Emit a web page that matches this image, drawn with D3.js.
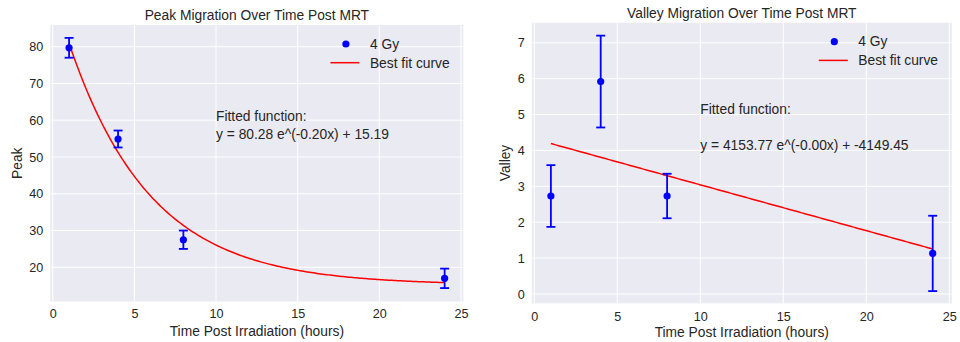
<!DOCTYPE html>
<html>
<head>
<meta charset="utf-8">
<script src="https://cdn.jsdelivr.net/npm/d3@7"></script>
<style>
  html, body { margin: 0; padding: 0; background: #ffffff; }
  svg { display: block; }
  text { font-family: "Liberation Sans", Arial, sans-serif; fill: #262626; }
</style>
</head>
<body>
<svg id="chart" width="960" height="342"></svg>
<script>
// Measurements taken at 1, 4, 8 and 24 hours after irradiation (4 Gy)
const hours = [1, 4, 8, 24];
const peakMean = [79.7, 54.9, 27.5, 17.0];
const peakErr = [2.7, 2.3, 2.5, 2.65];
const valleyMean = [2.73, 5.92, 2.73, 1.13];
const valleyErr = [0.86, 1.28, 0.62, 1.05];

// Fitted parameters of y = a * e^(-b x) + c
const peakFit = [80.28, 0.20, 15.19];
const valleyFit = [4153.77, 3.077e-5, -4149.45];

// Tick labels
const xTicks = [0, 5, 10, 15, 20, 25];
const peakTicks = [20, 30, 40, 50, 60, 70, 80];
const valleyTicks = [0, 1, 2, 3, 4, 5, 6, 7];

const svg = d3.select("#chart");

function fitLabel(p) {
  return "y = " + p[0].toFixed(2) + " e^(-" + p[1].toFixed(2) + "x) + " + p[2].toFixed(2);
}

function drawPanel(cfg) {
  const x = d3.scaleLinear().domain(cfg.xDomain).range([cfg.left, cfg.right]);
  const y = d3.scaleLinear().domain(cfg.yDomain).range([cfg.bottom, cfg.top]);
  const g = svg.append("g");

  // axes background
  g.append("rect")
    .attr("x", cfg.left).attr("y", cfg.top)
    .attr("width", cfg.right - cfg.left).attr("height", cfg.bottom - cfg.top)
    .attr("fill", "#eaeaf2");

  // grid lines
  g.append("g").selectAll("line").data(cfg.xTicks).join("line")
    .attr("x1", d => x(d)).attr("x2", d => x(d))
    .attr("y1", cfg.top).attr("y2", cfg.bottom)
    .attr("stroke", "#ffffff").attr("stroke-width", 1);
  g.append("g").selectAll("line").data(cfg.yTicks).join("line")
    .attr("x1", cfg.left).attr("x2", cfg.right)
    .attr("y1", d => y(d)).attr("y2", d => y(d))
    .attr("stroke", "#ffffff").attr("stroke-width", 1);

  // axes with tick labels only
  const xAxis = g.append("g")
    .attr("transform", `translate(0,${cfg.bottom})`)
    .call(d3.axisBottom(x).tickValues(cfg.xTicks).tickSize(0).tickPadding(cfg.xTickPad));
  const yAxis = g.append("g")
    .attr("transform", `translate(${cfg.left},0)`)
    .call(d3.axisLeft(y).tickValues(cfg.yTicks).tickSize(0).tickPadding(cfg.yTickPad));
  [xAxis, yAxis].forEach(a => {
    a.select(".domain").remove();
    a.selectAll("text")
      .attr("font-family", "Liberation Sans, Arial, sans-serif")
      .attr("font-size", 12.6).attr("fill", "#262626");
  });

  // fitted curve
  const p = cfg.fit;
  const xs = d3.range(0, 201).map(i => hours[0] + (hours[hours.length - 1] - hours[0]) * i / 200);
  const line = d3.line().x(d => x(d)).y(d => y(p[0] * Math.exp(-p[1] * d) + p[2]));
  g.append("path").datum(xs)
    .attr("d", line)
    .attr("fill", "none").attr("stroke", "#ff0000").attr("stroke-width", 1.5);

  // error bars
  const pts = hours.map((h, i) => ({ h, m: cfg.mean[i], e: cfg.err[i] }));
  const eb = g.append("g").attr("stroke", "#0000ff").attr("stroke-width", 1.8);
  eb.selectAll(".v").data(pts).join("line")
    .attr("x1", d => x(d.h)).attr("x2", d => x(d.h))
    .attr("y1", d => y(d.m - d.e)).attr("y2", d => y(d.m + d.e));
  eb.selectAll(".t").data(pts).join("line")
    .attr("x1", d => x(d.h) - 4.5).attr("x2", d => x(d.h) + 4.5)
    .attr("y1", d => y(d.m + d.e)).attr("y2", d => y(d.m + d.e));
  eb.selectAll(".b").data(pts).join("line")
    .attr("x1", d => x(d.h) - 4.5).attr("x2", d => x(d.h) + 4.5)
    .attr("y1", d => y(d.m - d.e)).attr("y2", d => y(d.m - d.e));

  // data points
  g.append("g").selectAll("circle").data(pts).join("circle")
    .attr("cx", d => x(d.h)).attr("cy", d => y(d.m))
    .attr("r", 3.6).attr("fill", "#0000ff");

  // fitted function annotation
  const ann = g.append("text")
    .attr("font-size", 13.8);
  ann.append("tspan")
    .attr("x", x(cfg.annX)).attr("y", y(cfg.annY) - cfg.annGap)
    .text("Fitted function:");
  ann.append("tspan")
    .attr("x", x(cfg.annX)).attr("y", y(cfg.annY))
    .text(fitLabel(p));

  // legend
  const lg = g.append("g");
  lg.append("circle")
    .attr("cx", cfg.right - 117.5).attr("cy", cfg.top + 19)
    .attr("r", 3.6).attr("fill", "#0000ff");
  lg.append("text")
    .attr("x", cfg.right - 93.5).attr("y", cfg.top + 23.5)
    .attr("font-size", 13.8).text("4 Gy");
  lg.append("line")
    .attr("x1", cfg.right - 133).attr("x2", cfg.right - 104)
    .attr("y1", cfg.top + 37.7).attr("y2", cfg.top + 37.7)
    .attr("stroke", "#ff0000").attr("stroke-width", 1.5);
  lg.append("text")
    .attr("x", cfg.right - 93.5).attr("y", cfg.top + 42.6)
    .attr("font-size", 13.8).text("Best fit curve");

  // title and axis labels
  const cx = (cfg.left + cfg.right) / 2;
  g.append("text")
    .attr("x", cx).attr("y", cfg.top - 5)
    .attr("text-anchor", "middle").attr("font-size", 13.8)
    .text(cfg.title);
  g.append("text")
    .attr("x", cx).attr("y", cfg.bottom + 34)
    .attr("text-anchor", "middle").attr("font-size", 13.8)
    .text("Time Post Irradiation (hours)");
  g.append("text")
    .attr("transform", `translate(${cfg.yLabelX},${(cfg.top + cfg.bottom) / 2}) rotate(-90)`)
    .attr("text-anchor", "middle").attr("font-size", 13.8)
    .text(cfg.yLabel);
}

drawPanel({
  left: 50.3, right: 463.4, top: 25, bottom: 301.5,
  xDomain: [-0.15, 25.15], yDomain: [10.7, 85.9],
  xTicks, yTicks: peakTicks,
  mean: peakMean, err: peakErr, fit: peakFit,
  annX: 10, annY: 55, annGap: 18,
  title: "Peak Migration Over Time Post MRT",
  yLabel: "Peak", yLabelX: 22,
  xTickPad: 8, yTickPad: 7
});

drawPanel({
  left: 531.8, right: 951.8, top: 22.7, bottom: 303.3,
  xDomain: [-0.15, 25.15], yDomain: [-0.26, 7.56],
  xTicks, yTicks: valleyTicks,
  mean: valleyMean, err: valleyErr, fit: valleyFit,
  annX: 10, annY: 4, annGap: 36,
  title: "Valley Migration Over Time Post MRT",
  yLabel: "Valley", yLabelX: 510,
  xTickPad: 9, yTickPad: 7
});
</script>
</body>
</html>
